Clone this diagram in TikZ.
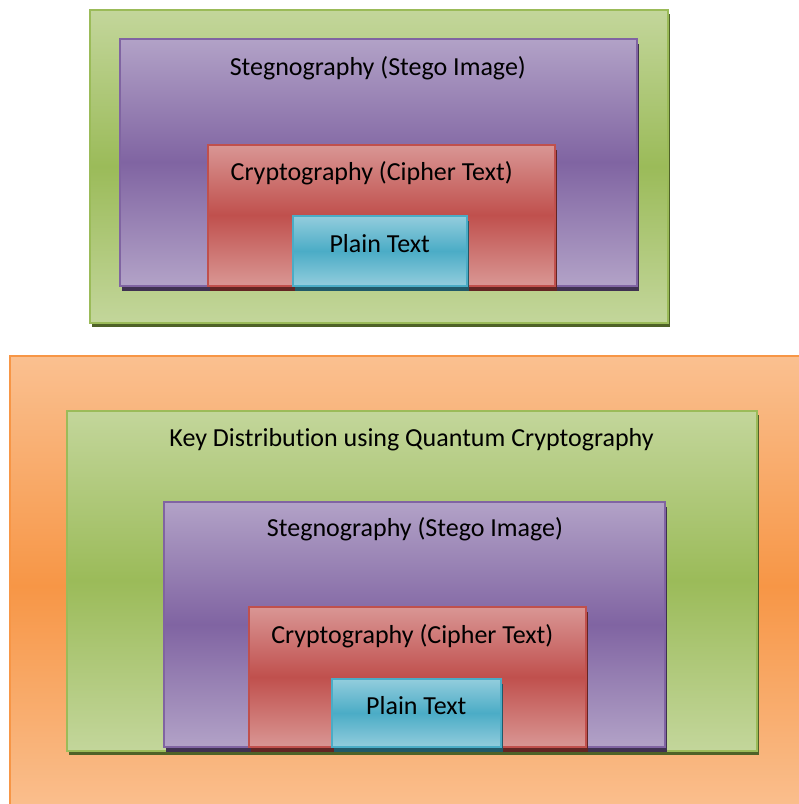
\documentclass[tikz,border=0pt]{standalone}
\usepackage{fontspec}
\setmainfont{Carlito}[Ligatures=NoCommon]
\usetikzlibrary{shadows}
\definecolor{gL}{HTML}{C3D69B}
\definecolor{gM}{HTML}{9BBB59}
\definecolor{gS}{HTML}{4F6228}
\definecolor{pL}{HTML}{B2A2C7}
\definecolor{pM}{HTML}{8064A2}
\definecolor{pS}{HTML}{3F3151}
\definecolor{rL}{HTML}{D99694}
\definecolor{rM}{HTML}{C0504D}
\definecolor{rS}{HTML}{632523}
\definecolor{bL}{HTML}{93CDDD}
\definecolor{bM}{HTML}{4BACC6}
\definecolor{bS}{HTML}{215968}
\definecolor{oL}{HTML}{FAC090}
\definecolor{oM}{HTML}{F79646}
\tikzset{
  panel/.style={rectangle, anchor=north west, inner sep=0pt, outer sep=0pt, line width=2pt},
  greenpanel/.style={panel, draw=gM, top color=gL, bottom color=gL, middle color=gM,
    general shadow={fill=gS, shadow xshift=2pt, shadow yshift=-4pt}},
  purplepanel/.style={panel, draw=pM, top color=pL, bottom color=pL, middle color=pM,
    general shadow={fill=pS, shadow xshift=2pt, shadow yshift=-5pt}},
  redpanel/.style={panel, draw=rM, top color=rL, bottom color=rL, middle color=rM,
    general shadow={fill=rS, shadow xshift=2pt, shadow yshift=-5pt}},
  bluepanel/.style={panel, draw=bM, top color=bL, bottom color=bL, middle color=bM,
    general shadow={fill=bS, shadow xshift=2pt, shadow yshift=-5pt}},
  orangepanel/.style={panel, draw=oM, top color=oL, bottom color=oL, middle color=oM},
  lbl/.style={anchor=base, inner sep=0pt, outer sep=0pt, text=black, font=\fontsize{26}{31}\selectfont}
}
\begin{document}
\begin{tikzpicture}[x=1pt,y=-1pt]
\useasboundingbox (0,0) rectangle (799,804);
\clip (0,0) rectangle (799,804);
% top diagram
\node[greenpanel, minimum width=577.7pt, minimum height=313.8pt] (tg) at (90,9.5) {};
\node[purplepanel, minimum width=516.7pt, minimum height=247pt] (tp) at (120,38.5) {};
\node[redpanel, minimum width=346.4pt, minimum height=140.8pt] (tr) at (208.3,144.7) {};
\node[bluepanel, minimum width=173.4pt, minimum height=70pt] (tb) at (293.3,216) {};
\node[lbl] (tpl) at (377.8,75.3) {Stegnography (Stego Image)};
\node[lbl] (trl) at (371.7,180) {Cryptography (Cipher Text)};
\node[lbl] (tbl) at (379.7,252.2) {Plain Text};
% bottom diagram
\node[orangepanel, minimum width=800pt, minimum height=460pt] (bo) at (10,356) {};
\node[greenpanel, minimum width=690pt, minimum height=340pt] (bg) at (66.7,410.7) {};
\node[purplepanel, minimum width=501pt, minimum height=245pt] (bp) at (164,502) {};
\node[redpanel, minimum width=336.7pt, minimum height=140pt] (br) at (249.3,607.3) {};
\node[bluepanel, minimum width=168.7pt, minimum height=68.6pt] (bb) at (332,678.7) {};
\node[lbl] (bgl) at (411.6,446) {Key Distribution using Quantum Cryptography};
\node[lbl] (bpl) at (415,536) {Stegnography (Stego Image)};
\node[lbl] (brl) at (412.3,643.5) {Cryptography (Cipher Text)};
\node[lbl] (bbl) at (416.3,714.7) {Plain Text};
\end{tikzpicture}
\end{document}
